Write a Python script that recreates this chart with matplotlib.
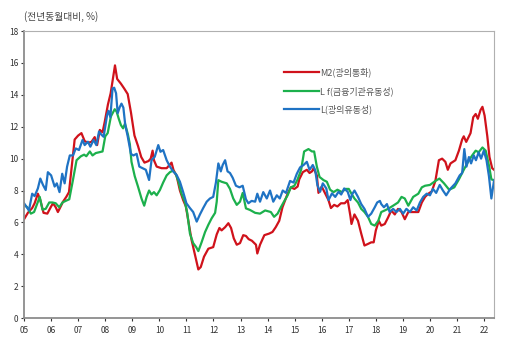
import matplotlib.pyplot as plt

plt.rcParams['font.family'] = ['Noto Sans CJK KR', 'DejaVu Sans']

## Time axis in years (5 = 2005), values in % (yoy)
m2_t = [5.0, 5.14, 5.3, 5.39, 5.51, 5.6, 5.72, 5.86, 6.0, 6.07, 6.17, 6.25, 6.34, 6.44, 6.56, 6.66,
        6.75, 6.87, 7.0, 7.12, 7.24, 7.36, 7.49, 7.61, 7.7, 7.8, 7.9, 7.98, 8.1, 8.2, 8.36, 8.44,
        8.58, 8.7, 8.83, 8.95, 9.08, 9.21, 9.33, 9.45, 9.6, 9.68, 9.75, 9.8, 9.9, 10.08, 10.27,
        10.45, 10.52, 10.64, 10.76, 10.88, 10.98, 11.07, 11.19, 11.31, 11.44, 11.53, 11.65, 11.81,
        11.99, 12.12, 12.22, 12.3, 12.43, 12.55, 12.65, 12.75, 12.86, 12.98, 13.1, 13.2, 13.3,
        13.42, 13.57, 13.62, 13.72, 13.88, 14.06, 14.18, 14.3, 14.43, 14.55, 14.65, 14.74, 14.86,
        14.99, 15.11, 15.17, 15.3, 15.45, 15.55, 15.64, 15.7, 15.82, 15.88, 16.0, 16.13, 16.25,
        16.34, 16.46, 16.58, 16.71, 16.85, 16.96, 17.06, 17.1, 17.21, 17.34, 17.46, 17.58, 17.71,
        17.83, 17.92, 18.0, 18.11, 18.2, 18.33, 18.45, 18.57, 18.7, 18.82, 18.95, 19.07, 19.2,
        19.38, 19.57, 19.7, 19.82, 19.94, 20.07, 20.2, 20.33, 20.45, 20.57, 20.66, 20.76, 20.94,
        21.07, 21.19, 21.25, 21.34, 21.5, 21.6, 21.69, 21.77, 21.87, 21.94, 22.02, 22.12, 22.2,
        22.3, 22.37]
m2_v = [6.2, 6.6, 6.9, 7.2, 7.8, 7.4, 6.6, 6.55, 7.0, 7.2, 6.95, 6.65, 6.95, 7.3, 7.6, 7.9,
        9.3, 11.2, 11.45, 11.6, 11.1, 11.0, 11.05, 11.35, 10.85, 11.8, 11.65, 12.3, 13.4, 14.1, 15.85, 15.0,
        14.7, 14.4, 14.05, 12.9, 11.45, 10.8, 10.1, 9.75, 9.85, 10.0, 10.5, 9.9, 9.5, 9.4, 9.4,
        9.75, 9.3, 8.9, 8.0, 7.4, 7.0, 6.1, 4.9, 4.0, 3.05, 3.2, 3.85, 4.35,
        4.45, 5.25, 5.65, 5.5, 5.7, 5.95, 5.65, 5.0, 4.6, 4.7, 5.2, 5.15, 4.95,
        4.85, 4.6, 4.05, 4.6, 5.2, 5.3, 5.4, 5.7, 6.1, 6.95, 7.4, 7.8, 8.2,
        8.1, 8.25, 8.7, 9.15, 9.3, 9.1, 9.2, 9.4, 8.95, 7.85, 8.25, 7.8, 7.4,
        6.9, 7.1, 7.0, 7.2, 7.2, 7.4, 6.4, 5.9, 6.5, 6.1, 5.3, 4.55, 4.65,
        4.75, 4.75, 5.5, 6.1, 5.8, 5.9, 6.3, 6.75, 6.5, 6.85, 6.65, 6.2, 6.65,
        6.65, 6.65, 7.25, 7.6, 7.8, 7.95, 8.6, 9.9, 10.0, 9.8, 9.3, 9.7, 9.9,
        10.5, 11.2, 11.4, 11.05, 11.6, 12.6, 12.8, 12.5, 13.05, 13.25, 12.7, 11.4, 10.1,
        9.4, 9.3]

lf_t = [5.0, 5.12, 5.25, 5.37, 5.5, 5.58, 5.68, 5.8, 5.93, 6.05, 6.17, 6.3, 6.42, 6.54, 6.67,
        6.8, 6.94, 7.1, 7.22, 7.3, 7.43, 7.53, 7.65, 7.78, 7.9, 8.0, 8.09, 8.21, 8.35, 8.42, 8.5,
        8.58, 8.66, 8.73, 8.84, 8.91, 8.97, 9.09, 9.21, 9.34, 9.44, 9.53, 9.62, 9.71, 9.8, 9.9,
        10.02, 10.14, 10.27, 10.39, 10.5, 10.6, 10.7, 10.82, 10.94, 11.03, 11.13, 11.25, 11.36,
        11.44, 11.56, 11.69, 11.81, 11.93, 12.06, 12.12, 12.18, 12.3, 12.49, 12.61, 12.73, 12.86,
        12.98, 13.08, 13.2, 13.35, 13.54, 13.72, 13.91, 14.12, 14.24, 14.37, 14.49, 14.62, 14.74,
        14.86, 14.99, 15.11, 15.24, 15.35, 15.51, 15.64, 15.72, 15.82, 15.92, 16.07, 16.19, 16.31,
        16.44, 16.58, 16.75, 16.87, 17.0, 17.1, 17.21, 17.34, 17.46, 17.58, 17.71, 17.83, 17.96,
        18.09, 18.2, 18.33, 18.45, 18.64, 18.82, 18.95, 19.07, 19.2, 19.38, 19.57, 19.7, 19.82,
        20.0, 20.2, 20.35, 20.52, 20.71, 20.9, 21.07, 21.25, 21.44, 21.56, 21.69, 21.8, 21.94,
        22.06, 22.19, 22.27, 22.37]
lf_v = [7.1, 6.95, 6.55, 6.65, 7.25, 7.6, 6.8, 6.85, 7.25, 7.25, 7.2, 6.95, 7.25, 7.35, 7.45,
        8.6, 9.9, 10.15, 10.25, 10.15, 10.45, 10.2, 10.35, 10.4, 10.45, 11.4, 11.6, 12.65, 13.1, 12.95, 12.5,
        12.1, 11.9, 12.2, 11.5, 10.9, 9.8, 8.9, 8.25, 7.5, 7.05, 7.6, 8.0, 7.75, 7.9, 7.7,
        8.03, 8.5, 8.95, 9.15, 9.25, 9.05, 8.6, 7.8, 7.3, 6.6, 5.3, 4.7, 4.45,
        4.2, 4.75, 5.4, 5.85, 6.25, 6.6, 7.3, 8.65, 8.55, 8.45, 8.1, 7.5, 7.1,
        7.3, 7.85, 6.88, 6.78, 6.6, 6.55, 6.75, 6.65, 6.35, 6.55, 6.95, 7.35, 7.7,
        8.2, 8.3, 8.7, 9.3, 10.45, 10.6, 10.45, 10.45, 9.5, 8.85, 8.65, 8.55, 8.05,
        7.9, 8.05, 7.9, 8.1, 8.1, 7.8, 7.5, 7.25, 6.85, 6.65, 6.35, 5.9, 5.8,
        6.1, 6.65, 6.75, 6.85, 7.05, 7.25, 7.6, 7.5, 7.05, 7.6, 7.8, 8.2, 8.3,
        8.35, 8.6, 8.75, 8.45, 8.05, 8.2, 8.7, 9.3, 9.9, 10.2, 10.5, 10.4, 10.7,
        10.5, 9.5, 8.7, 8.65]

l_t = [5.0, 5.08, 5.18, 5.3, 5.39, 5.51, 5.6, 5.7, 5.8, 5.88, 6.0, 6.13, 6.21, 6.31, 6.41, 6.5,
       6.59, 6.69, 6.81, 6.91, 7.03, 7.16, 7.24, 7.36, 7.45, 7.57, 7.67, 7.77, 7.86, 7.94, 8.07,
       8.12, 8.19, 8.27, 8.33, 8.4, 8.46, 8.54, 8.6, 8.67, 8.74, 8.83, 8.95, 9.04, 9.16, 9.26,
       9.38, 9.5, 9.62, 9.71, 9.83, 9.96, 10.04, 10.14, 10.27, 10.39, 10.51, 10.64, 10.76, 10.88,
       11.0, 11.13, 11.25, 11.38, 11.5, 11.62, 11.75, 11.87, 11.99, 12.09, 12.18, 12.27, 12.34,
       12.43, 12.52, 12.61, 12.71, 12.83, 12.96, 13.08, 13.2, 13.29, 13.41, 13.54, 13.62, 13.72,
       13.84, 13.97, 14.09, 14.21, 14.34, 14.45, 14.56, 14.68, 14.83, 14.96, 15.08, 15.2, 15.33,
       15.45, 15.55, 15.67, 15.76, 15.84, 15.94, 16.04, 16.17, 16.25, 16.38, 16.5, 16.62, 16.72,
       16.83, 16.96, 17.06, 17.12, 17.21, 17.34, 17.46, 17.58, 17.71, 17.83, 17.96, 18.05, 18.15,
       18.2, 18.3, 18.41, 18.51, 18.64, 18.76, 18.89, 19.01, 19.13, 19.26, 19.38, 19.51, 19.63,
       19.75, 19.88, 20.0, 20.11, 20.23, 20.36, 20.48, 20.6, 20.75, 20.94, 21.1, 21.19, 21.27,
       21.35, 21.44, 21.52, 21.62, 21.7, 21.8, 21.89, 21.99, 22.09, 22.18, 22.27, 22.37]
l_v = [7.2, 7.0, 6.75, 7.8, 7.65, 8.13, 8.75, 8.35, 8.03, 9.15, 8.95, 8.25, 8.45, 7.9, 9.05, 8.45,
       9.5, 10.2, 10.2, 10.64, 10.54, 11.17, 10.85, 11.06, 10.75, 11.17, 10.85, 11.7, 11.5, 11.37, 12.75,
       13.0, 12.6, 14.4, 14.45, 14.1, 12.85, 13.25, 13.45, 13.2, 12.1, 11.4, 10.3, 10.2, 10.3, 9.5,
       9.4, 9.3, 8.66, 9.9, 10.12, 10.85, 10.43, 10.54, 9.9, 9.5, 9.2, 8.97, 8.55, 7.9,
       7.2, 6.9, 6.65, 6.05, 6.5, 6.9, 7.3, 7.5, 7.6, 8.5, 9.7, 9.2, 9.6,
       9.9, 9.2, 9.1, 8.8, 8.3, 8.2, 8.3, 7.45, 7.2, 7.35, 7.3, 7.8, 7.3,
       7.9, 7.5, 8.0, 7.3, 7.7, 7.5, 8.0, 7.85, 8.6, 8.5, 9.05, 9.45, 9.6,
       9.8, 9.3, 9.6, 9.28, 8.34, 7.92, 8.45, 8.13, 7.4, 7.82, 7.6, 7.92, 7.75,
       8.13, 7.92, 7.4, 7.75, 8.0, 7.6, 7.15, 6.85, 6.35, 6.55, 6.95, 7.25, 7.35,
       7.15, 6.95, 7.15, 6.65, 6.85, 6.65, 6.85, 6.55, 6.85, 6.65, 6.95, 6.75, 7.25,
       7.6, 7.8, 7.7, 8.1, 7.85, 8.35, 8.0, 7.7, 8.1, 8.45, 8.95, 9.1, 10.6,
       9.5, 10.1, 9.7, 10.2, 9.9, 10.4, 10.0, 10.5, 9.9, 8.9, 7.5, 8.65]

years = list(range(5, 23))
year_labels = ['%02d' % y for y in years]
y_ticks = list(range(0, 19, 2))

fig = plt.figure(figsize=(5.12, 3.38), dpi=100)
ax = fig.add_axes([0.047, 0.059, 0.918, 0.849])

ax.plot(m2_t, m2_v, color='#d0121b', lw=1.6, label='M2(광의통화)')
ax.plot(lf_t, lf_v, color='#1cb04c', lw=1.6, label='L f(금융기관유동성)')
ax.plot(l_t, l_v, color='#1f73c4', lw=1.6, label='L(광의유동성)')

ax.set_xlim(5.0, 22.37)
ax.set_ylim(0, 18)
ax.set_xticks(years)
ax.set_xticklabels(year_labels)
ax.set_yticks(y_ticks)
ax.tick_params(labelsize=6, colors='#333333', length=2, width=0.8, pad=2)
ax.tick_params(axis='x', pad=4)

for side in ['left', 'bottom']:
    ax.spines[side].set_color('#8c8c8c')
    ax.spines[side].set_linewidth(1.3)
for side in ['top', 'right']:
    ax.spines[side].set_color('#b0b0b0')
    ax.spines[side].set_linewidth(0.8)

leg = ax.legend(loc='upper left', bbox_to_anchor=(0.545, 0.885), frameon=False,
                fontsize=6.5, handlelength=3.9, handletextpad=0.1, labelspacing=0.95,
                borderaxespad=0)
for txt in leg.get_texts():
    txt.set_color('#555555')

fig.text(0.047, 0.95, '(전년동월대비, %)', fontsize=7, color='#444444', va='center')

fig.savefig('out.png', dpi=100)
